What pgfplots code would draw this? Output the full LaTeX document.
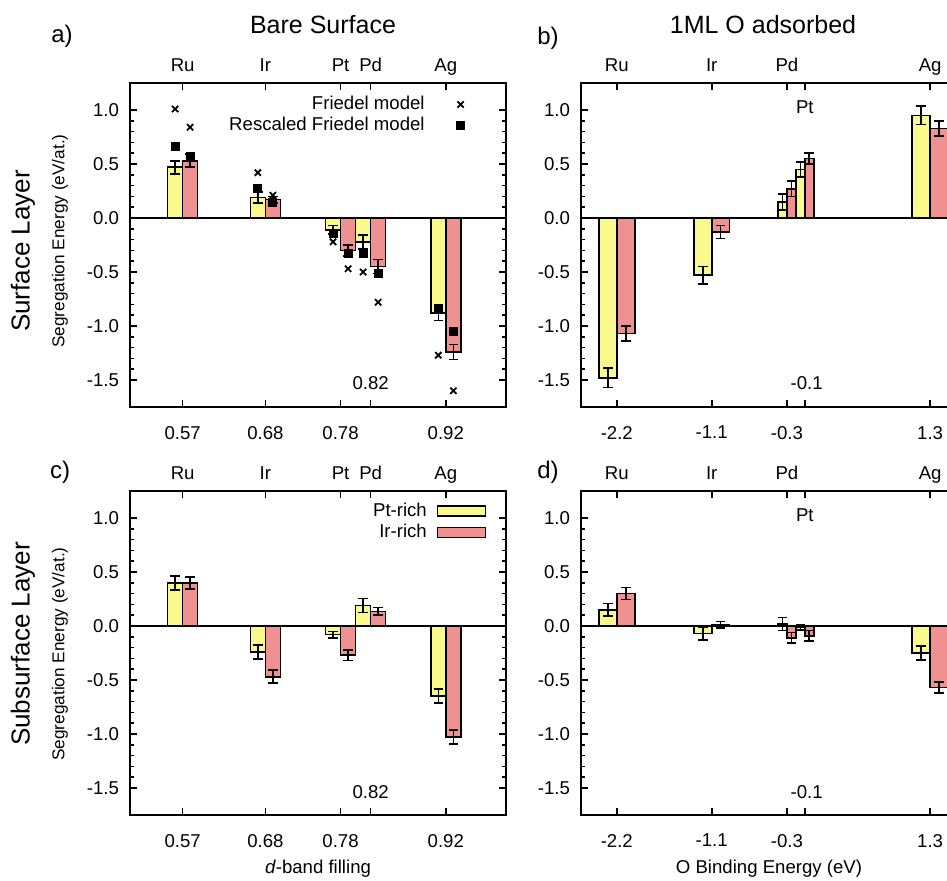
\documentclass[border=0pt]{standalone}
\usepackage{pgfplots}
\pgfplotsset{compat=1.18}
\usepackage{pgfplotstable}
\usepackage{fontspec}
\setmainfont{Liberation Sans}

\definecolor{ylw}{RGB}{250,250,140}
\definecolor{rd}{RGB}{240,145,145}
\newcommand\tfont{\fontsize{9.3}{11}\selectfont}

% bare surface, surface layer: x = bar centre, y, error
\pgfplotstableread{
x y e
0.56 0.47 0.06
0.67 0.19 0.05
0.77 -0.11 0.04
0.81 -0.22 0.065
0.91 -0.88 0.07
}\aY
\pgfplotstableread{
x y e
0.58 0.53 0.06
0.69 0.17 0.03
0.79 -0.30 0.05
0.83 -0.45 0.065
0.93 -1.24 0.07
}\aR
% Friedel model and rescaled Friedel model
\pgfplotstableread{
x y
0.56 1.01
0.58 0.84
0.67 0.42
0.69 0.21
0.77 -0.22
0.79 -0.47
0.81 -0.50
0.83 -0.78
0.91 -1.27
0.93 -1.60
}\aF
\pgfplotstableread{
x y
0.56 0.665
0.58 0.566
0.67 0.27
0.69 0.14
0.77 -0.14
0.79 -0.325
0.81 -0.325
0.83 -0.51
0.91 -0.84
0.93 -1.05
}\aS
% bare surface, subsurface layer
\pgfplotstableread{
x y e
0.56 0.40 0.065
0.67 -0.24 0.065
0.77 -0.08 0.03
0.81 0.19 0.065
0.91 -0.65 0.065
}\cY
\pgfplotstableread{
x y e
0.58 0.40 0.055
0.69 -0.47 0.06
0.79 -0.27 0.05
0.83 0.135 0.035
0.93 -1.03 0.065
}\cR
% 1ML O, surface layer (Ru, Ir, Ag wide; Pd, Pt narrow)
\pgfplotstableread{
x y e
-2.30 -1.48 0.09
-1.24 -0.53 0.08
1.20 0.95 0.085
}\bY
\pgfplotstableread{
x y e
-2.10 -1.07 0.07
-1.04 -0.13 0.06
1.40 0.83 0.07
}\bR
\pgfplotstableread{
x y e
-0.35 0.15 0.075
-0.15 0.45 0.07
}\bYn
\pgfplotstableread{
x y e
-0.25 0.27 0.07
-0.05 0.55 0.05
}\bRn
% 1ML O, subsurface layer
\pgfplotstableread{
x y e
-2.30 0.15 0.06
-1.24 -0.07 0.06
1.20 -0.25 0.065
}\dY
\pgfplotstableread{
x y e
-2.10 0.30 0.055
-1.04 0.01 0.03
1.40 -0.57 0.05
}\dR
\pgfplotstableread{
x y e
-0.35 0.02 0.06
-0.15 -0.01 0.025
}\dYn
\pgfplotstableread{
x y e
-0.25 -0.11 0.05
-0.05 -0.09 0.05
}\dRn

\pgfplotsset{
  panel/.style={scale only axis, width=188pt, height=162pt, clip=false,
    ymin=-1.75, ymax=1.25,
    ytick={-1.5,-1,-0.5,0,0.5,1},
    yticklabels={-1.5,-1.0,-0.5,0.0,0.5,1.0},
    minor y tick num=4,
    xtick pos=both, ytick pos=both, tick align=inside,
    major tick length=3.5pt, minor tick length=2.2pt,
    axis line style={line width=1pt},
    tick style={black, line width=0.8pt},
    tick label style={font=\tfont},
    xticklabel style={yshift=-6pt},
    yticklabel style={xshift=-2pt}},
  barbase/.style={ybar, bar shift=0pt, draw=black, line width=0.8pt,
    error bars/y dir=both, error bars/y explicit,
    error bars/error bar style={line width=0.8pt},
    error bars/error mark options={rotate=90, mark size=2.4pt, line width=0.8pt}},
  yb/.style={barbase, fill=ylw, bar width=#1},
  rb/.style={barbase, fill=rd, bar width=#1},
  boxlegend/.style={legend image code/.code={\draw[##1] (0pt,-2.5pt) rectangle (24pt,2.5pt);}},
}

\begin{document}
\begin{tikzpicture}
\useasboundingbox (0,0) rectangle (473.5pt,-440pt);

% ---- a) bare surface, surface layer
\begin{axis}[panel, at={(65pt,-41.5pt)}, anchor=north west,
  xmin=0.5, xmax=1.0,
  xtick={0.57,0.68,0.78,0.82,0.92}, xticklabels={0.57,0.68,0.78,,0.92},
  legend style={draw=none, fill=none, font=\tfont, at={(rel axis cs:0.907,0.985)}, anchor=north east, row sep=-2pt,
    /tikz/every odd column/.append style={column sep=14pt}},
  legend plot pos=right, legend cell align=right]
\draw[line width=0.9pt] (axis cs:0.5,0) -- (axis cs:1,0);
\addplot[forget plot, yb=0.02] table[x=x, y=y, y error=e] {\aY};
\addplot[forget plot, rb=0.02] table[x=x, y=y, y error=e] {\aR};
\addplot[only marks, mark=x, mark size=2.2pt, line width=0.9pt, black] table {\aF};
\addlegendentry{Friedel model}
\addplot[only marks, mark=square*, mark size=2pt, black] table {\aS};
\addlegendentry{Rescaled Friedel model}
\node[font=\tfont, anchor=base] at ([yshift=6pt]axis cs:0.57,1.25) {Ru};
\node[font=\tfont, anchor=base] at ([yshift=6pt]axis cs:0.68,1.25) {Ir};
\node[font=\tfont, anchor=base] at ([yshift=6pt]axis cs:0.78,1.25) {Pt};
\node[font=\tfont, anchor=base] at ([yshift=6pt]axis cs:0.82,1.25) {Pd};
\node[font=\tfont, anchor=base] at ([yshift=6pt]axis cs:0.92,1.25) {Ag};
\node[font=\tfont] at (axis cs:0.82,-1.53) {0.82};
\end{axis}

% ---- c) bare surface, subsurface layer
\begin{axis}[panel, at={(65pt,-245.5pt)}, anchor=north west,
  xmin=0.5, xmax=1.0,
  xtick={0.57,0.68,0.78,0.82,0.92}, xticklabels={0.57,0.68,0.78,,0.92},
  legend style={draw=none, fill=none, font=\tfont, at={(rel axis cs:0.965,0.99)}, anchor=north east, row sep=-1.5pt,
    /tikz/every odd column/.append style={column sep=3pt}},
  legend plot pos=right, legend cell align=right]
\draw[line width=0.9pt] (axis cs:0.5,0) -- (axis cs:1,0);
\addplot[forget plot, yb=0.02] table[x=x, y=y, y error=e] {\cY};
\addplot[forget plot, rb=0.02] table[x=x, y=y, y error=e] {\cR};
\addlegendimage{fill=ylw, draw=black, line width=0.8pt, boxlegend}
\addlegendentry{Pt-rich}
\addlegendimage{fill=rd, draw=black, line width=0.8pt, boxlegend}
\addlegendentry{Ir-rich}
\node[font=\tfont, anchor=base] at ([yshift=6pt]axis cs:0.57,1.25) {Ru};
\node[font=\tfont, anchor=base] at ([yshift=6pt]axis cs:0.68,1.25) {Ir};
\node[font=\tfont, anchor=base] at ([yshift=6pt]axis cs:0.78,1.25) {Pt};
\node[font=\tfont, anchor=base] at ([yshift=6pt]axis cs:0.82,1.25) {Pd};
\node[font=\tfont, anchor=base] at ([yshift=6pt]axis cs:0.92,1.25) {Ag};
\node[font=\tfont] at (axis cs:0.82,-1.54) {0.82};
\node[font=\tfont] at ([yshift=-27pt]rel axis cs:0.5,0) {\textit{d}-band filling};
\end{axis}

% ---- b) 1ML O, surface layer
\begin{axis}[panel, at={(290.5pt,-41.5pt)}, anchor=north west,
  xmin=-2.6, xmax=1.6,
  xtick={-2.2,-1.14,-0.3,-0.1,1.3}, xticklabels={-2.2,-1.1,-0.3,,1.3}]
\draw[line width=0.9pt] (axis cs:-2.6,0) -- (axis cs:1.6,0);
\addplot[yb=0.2] table[x=x, y=y, y error=e] {\bY};
\addplot[rb=0.2] table[x=x, y=y, y error=e] {\bR};
\addplot[yb=0.1] table[x=x, y=y, y error=e] {\bYn};
\addplot[rb=0.1] table[x=x, y=y, y error=e] {\bRn};
\node[font=\tfont, anchor=base] at ([yshift=6pt]axis cs:-2.2,1.25) {Ru};
\node[font=\tfont, anchor=base] at ([yshift=6pt]axis cs:-1.14,1.25) {Ir};
\node[font=\tfont, anchor=base] at ([yshift=6pt]axis cs:-0.3,1.25) {Pd};
\node[font=\tfont, anchor=base] at ([yshift=6pt]axis cs:1.3,1.25) {Ag};
\node[font=\tfont] at (axis cs:-0.1,1.03) {Pt};
\node[font=\tfont] at (axis cs:-0.08,-1.53) {-0.1};
\end{axis}

% ---- d) 1ML O, subsurface layer
\begin{axis}[panel, at={(290.5pt,-245.5pt)}, anchor=north west,
  xmin=-2.6, xmax=1.6,
  xtick={-2.2,-1.14,-0.3,-0.1,1.3}, xticklabels={-2.2,-1.1,-0.3,,1.3}]
\draw[line width=0.9pt] (axis cs:-2.6,0) -- (axis cs:1.6,0);
\addplot[yb=0.2] table[x=x, y=y, y error=e] {\dY};
\addplot[rb=0.2] table[x=x, y=y, y error=e] {\dR};
\addplot[yb=0.1] table[x=x, y=y, y error=e] {\dYn};
\addplot[rb=0.1] table[x=x, y=y, y error=e] {\dRn};
\node[font=\tfont, anchor=base] at ([yshift=6pt]axis cs:-2.2,1.25) {Ru};
\node[font=\tfont, anchor=base] at ([yshift=6pt]axis cs:-1.14,1.25) {Ir};
\node[font=\tfont, anchor=base] at ([yshift=6pt]axis cs:-0.3,1.25) {Pd};
\node[font=\tfont, anchor=base] at ([yshift=6pt]axis cs:1.3,1.25) {Ag};
\node[font=\tfont] at (axis cs:-0.1,1.03) {Pt};
\node[font=\tfont] at (axis cs:-0.08,-1.54) {-0.1};
\node[font=\tfont] at ([yshift=-27pt]rel axis cs:0.5,0) {O Binding Energy (eV)};
\end{axis}

% titles and panel labels
\node[font=\fontsize{12.5}{14}\selectfont] at (161.5pt,-12.5pt) {Bare Surface};
\node[font=\fontsize{12.5}{14}\selectfont] at (381.5pt,-12.5pt) {1ML O adsorbed};
\node[font=\fontsize{12}{14}\selectfont] at (31pt,-18pt) {a)};
\node[font=\fontsize{12}{14}\selectfont] at (274pt,-19pt) {b)};
\node[font=\fontsize{12}{14}\selectfont] at (30pt,-236pt) {c)};
\node[font=\fontsize{12}{14}\selectfont] at (274pt,-236pt) {d)};
\node[font=\fontsize{13}{15}\selectfont, rotate=90] at (11.5pt,-125.5pt) {Surface Layer};
\node[font=\fontsize{13}{15}\selectfont, rotate=90] at (11.5pt,-322pt) {Subsurface Layer};
\node[font=\fontsize{8.6}{10}\selectfont, rotate=90] at (30pt,-120.5pt) {Segregation Energy (eV/at.)};
\node[font=\fontsize{8.6}{10}\selectfont, rotate=90] at (30pt,-327pt) {Segregation Energy (eV/at.)};
\end{tikzpicture}
\end{document}
